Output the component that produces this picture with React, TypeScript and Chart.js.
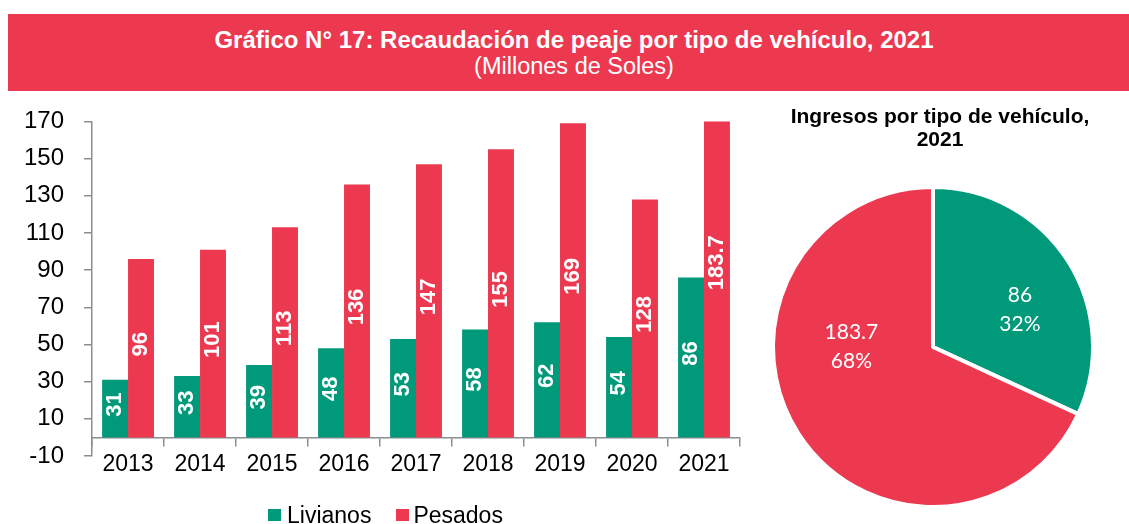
import React, { useEffect, useRef } from "react";
import { Chart, registerables } from "chart.js";

Chart.register(...registerables);

// ---- data ----
const years = ["2013", "2014", "2015", "2016", "2017", "2018", "2019", "2020", "2021"];
const livianos = [31, 33, 39, 48, 53, 58, 62, 54, 86];
const pesados = [96, 101, 113, 136, 147, 155, 169, 128, 183.7];
const seriesNames = ["Livianos", "Pesados"];
const yMin = -10;
const yMax = 170;
const yStep = 20;
const pieLabels = ["Livianos", "Pesados"];
const pieValues = [86, 183.7];

const mainTitle = "Gráfico N° 17: Recaudación de peaje por tipo de vehículo, 2021";
const mainSubtitle = "(Millones de Soles)";
const pieTitleLines = ["Ingresos por tipo de vehículo,", "2021"];

// ---- styles ----
const GREEN = "#00997A";
const RED = "#EC3950";
const AXIS = "#8C8C8C";
const FONT = '"Liberation Sans", Arial, Helvetica, sans-serif';
const PIE_FONT = 'Lato, "Open Sans", sans-serif';

const barLabelPlugin = {
  id: "barLabels",
  afterDatasetsDraw(chart: any) {
    const ctx = chart.ctx;
    ctx.save();
    ctx.fillStyle = "#ffffff";
    ctx.font = `bold 22px ${FONT}`;
    ctx.textAlign = "center";
    ctx.textBaseline = "middle";
    chart.data.datasets.forEach((ds: any, di: number) => {
      const meta = chart.getDatasetMeta(di);
      meta.data.forEach((el: any, i: number) => {
        const { x, y, base } = el.getProps(["x", "y", "base"], true);
        const cy = (y + base) / 2 - 4;
        ctx.save();
        ctx.translate(x, cy);
        ctx.rotate(-Math.PI / 2);
        ctx.fillText(String(ds.data[i]), 0, 0);
        ctx.restore();
      });
    });
    ctx.restore();
  },
};

const pieLabelPlugin = {
  id: "pieLabels",
  afterDatasetsDraw(chart: any, _args: any, opts: any) {
    const ctx = chart.ctx;
    const meta = chart.getDatasetMeta(0);
    const data: number[] = chart.data.datasets[0].data;
    const total = data.reduce((a, b) => a + b, 0);
    ctx.save();
    ctx.fillStyle = "#ffffff";
    ctx.font = `21px ${PIE_FONT}`;
    ctx.textAlign = "center";
    ctx.textBaseline = "middle";
    meta.data.forEach((arc: any, i: number) => {
      const { x, y, outerRadius } = arc.getProps(["x", "y", "outerRadius"], true);
      const a = opts.anchors[i];
      const ang = (a.angle * Math.PI) / 180;
      const cx = x + Math.cos(ang) * a.r * outerRadius;
      const cy = y + Math.sin(ang) * a.r * outerRadius;
      ctx.fillText(String(data[i]), cx, cy - 14.5);
      ctx.fillText(Math.round((data[i] / total) * 100) + "%", cx, cy + 14.5);
    });
    ctx.restore();
  },
};

export default function App() {
  const barRef = useRef<HTMLCanvasElement>(null);
  const pieRef = useRef<HTMLCanvasElement>(null);

  useEffect(() => {
    const bar = new Chart(barRef.current as HTMLCanvasElement, {
      type: "bar",
      data: {
        labels: years,
        datasets: [
          {
            label: seriesNames[0],
            data: livianos,
            backgroundColor: GREEN,
            borderWidth: 0,
            categoryPercentage: 0.72,
            barPercentage: 1,
          },
          {
            label: seriesNames[1],
            data: pesados,
            backgroundColor: RED,
            borderWidth: 0,
            categoryPercentage: 0.72,
            barPercentage: 1,
          },
        ],
      },
      options: {
        animation: false,
        responsive: false,
        maintainAspectRatio: false,
        layout: { padding: { top: 23, bottom: 68, left: 4, right: 32 } },
        plugins: {
          legend: { display: false },
          tooltip: { enabled: false },
          title: { display: false },
        },
        scales: {
          x: {
            type: "category",
            position: { y: 0 } as any,
            offset: true,
            grid: {
              display: true,
              offset: true,
              drawOnChartArea: false,
              drawTicks: true,
              tickLength: 8,
              color: AXIS,
              lineWidth: 1.5,
            },
            border: { display: true, color: AXIS, width: 1.5 },
            ticks: {
              color: "#000",
              font: { family: FONT, size: 23 },
              padding: 5,
              maxRotation: 0,
              autoSkip: false,
            },
          },
          y: {
            min: yMin,
            max: yMax,
            ticks: {
              stepSize: yStep,
              color: "#000",
              font: { family: FONT, size: 24 },
              padding: 20,
            },
            grid: {
              display: true,
              drawOnChartArea: false,
              drawTicks: true,
              tickLength: 8,
              color: AXIS,
              lineWidth: 1.5,
            },
            border: { display: true, color: AXIS, width: 1.5 },
          },
        },
      } as any,
      plugins: [barLabelPlugin],
    });

    const pie = new Chart(pieRef.current as HTMLCanvasElement, {
      type: "pie",
      data: {
        labels: pieLabels,
        datasets: [
          {
            data: pieValues,
            backgroundColor: [GREEN, RED],
            borderColor: "#ffffff",
            borderWidth: 4,
            radius: 160,
          } as any,
        ],
      },
      options: {
        animation: false,
        responsive: false,
        maintainAspectRatio: false,
        layout: { padding: 0 },
        plugins: {
          legend: { display: false },
          tooltip: { enabled: false },
          pieLabels: {
            anchors: [
              { angle: -23, r: 0.59 },
              { angle: 180, r: 0.51 },
            ],
          },
        },
      } as any,
      plugins: [pieLabelPlugin],
    });

    return () => {
      bar.destroy();
      pie.destroy();
    };
  }, []);

  return (
    <div
      style={{
        position: "absolute",
        left: 0,
        top: 0,
        width: 1129,
        height: 524,
        overflow: "hidden",
        background: "#ffffff",
        fontFamily: FONT,
      }}
    >
      <div
        style={{
          position: "absolute",
          left: 8,
          top: 14,
          width: 1121,
          height: 77,
          background: RED,
          color: "#ffffff",
          textAlign: "center",
          boxSizing: "border-box",
          paddingTop: 12,
          paddingLeft: 11,
          lineHeight: "27px",
        }}
      >
        <div style={{ fontWeight: "bold", fontSize: 24 }}>{mainTitle}</div>
        <div style={{ fontSize: 23.5 }}>{mainSubtitle}</div>
      </div>

      <div style={{ position: "absolute", left: 0, top: 87, width: 772, height: 437 }}>
        <canvas ref={barRef} width={772} height={437} style={{ display: "block" }} />
      </div>

      <div
        style={{
          position: "absolute",
          left: 268,
          top: 501.5,
          display: "flex",
          alignItems: "center",
          fontSize: 23,
          lineHeight: "27px",
          color: "#000",
          whiteSpace: "nowrap",
        }}
      >
        <span style={{ display: "inline-block", width: 13, height: 12, background: GREEN, marginRight: 6 }} />
        <span>{seriesNames[0]}</span>
        <span
          style={{ display: "inline-block", width: 13, height: 12, background: RED, marginLeft: 25, marginRight: 4 }}
        />
        <span>{seriesNames[1]}</span>
      </div>

      <div
        style={{
          position: "absolute",
          left: 760,
          top: 104,
          width: 360,
          textAlign: "center",
          fontWeight: "bold",
          fontSize: 21,
          lineHeight: "23px",
          color: "#000",
        }}
      >
        {pieTitleLines[0]}
        <br />
        {pieTitleLines[1]}
      </div>

      <div style={{ position: "absolute", left: 763, top: 177, width: 340, height: 340 }}>
        <canvas ref={pieRef} width={340} height={340} style={{ display: "block" }} />
      </div>
    </div>
  );
}
